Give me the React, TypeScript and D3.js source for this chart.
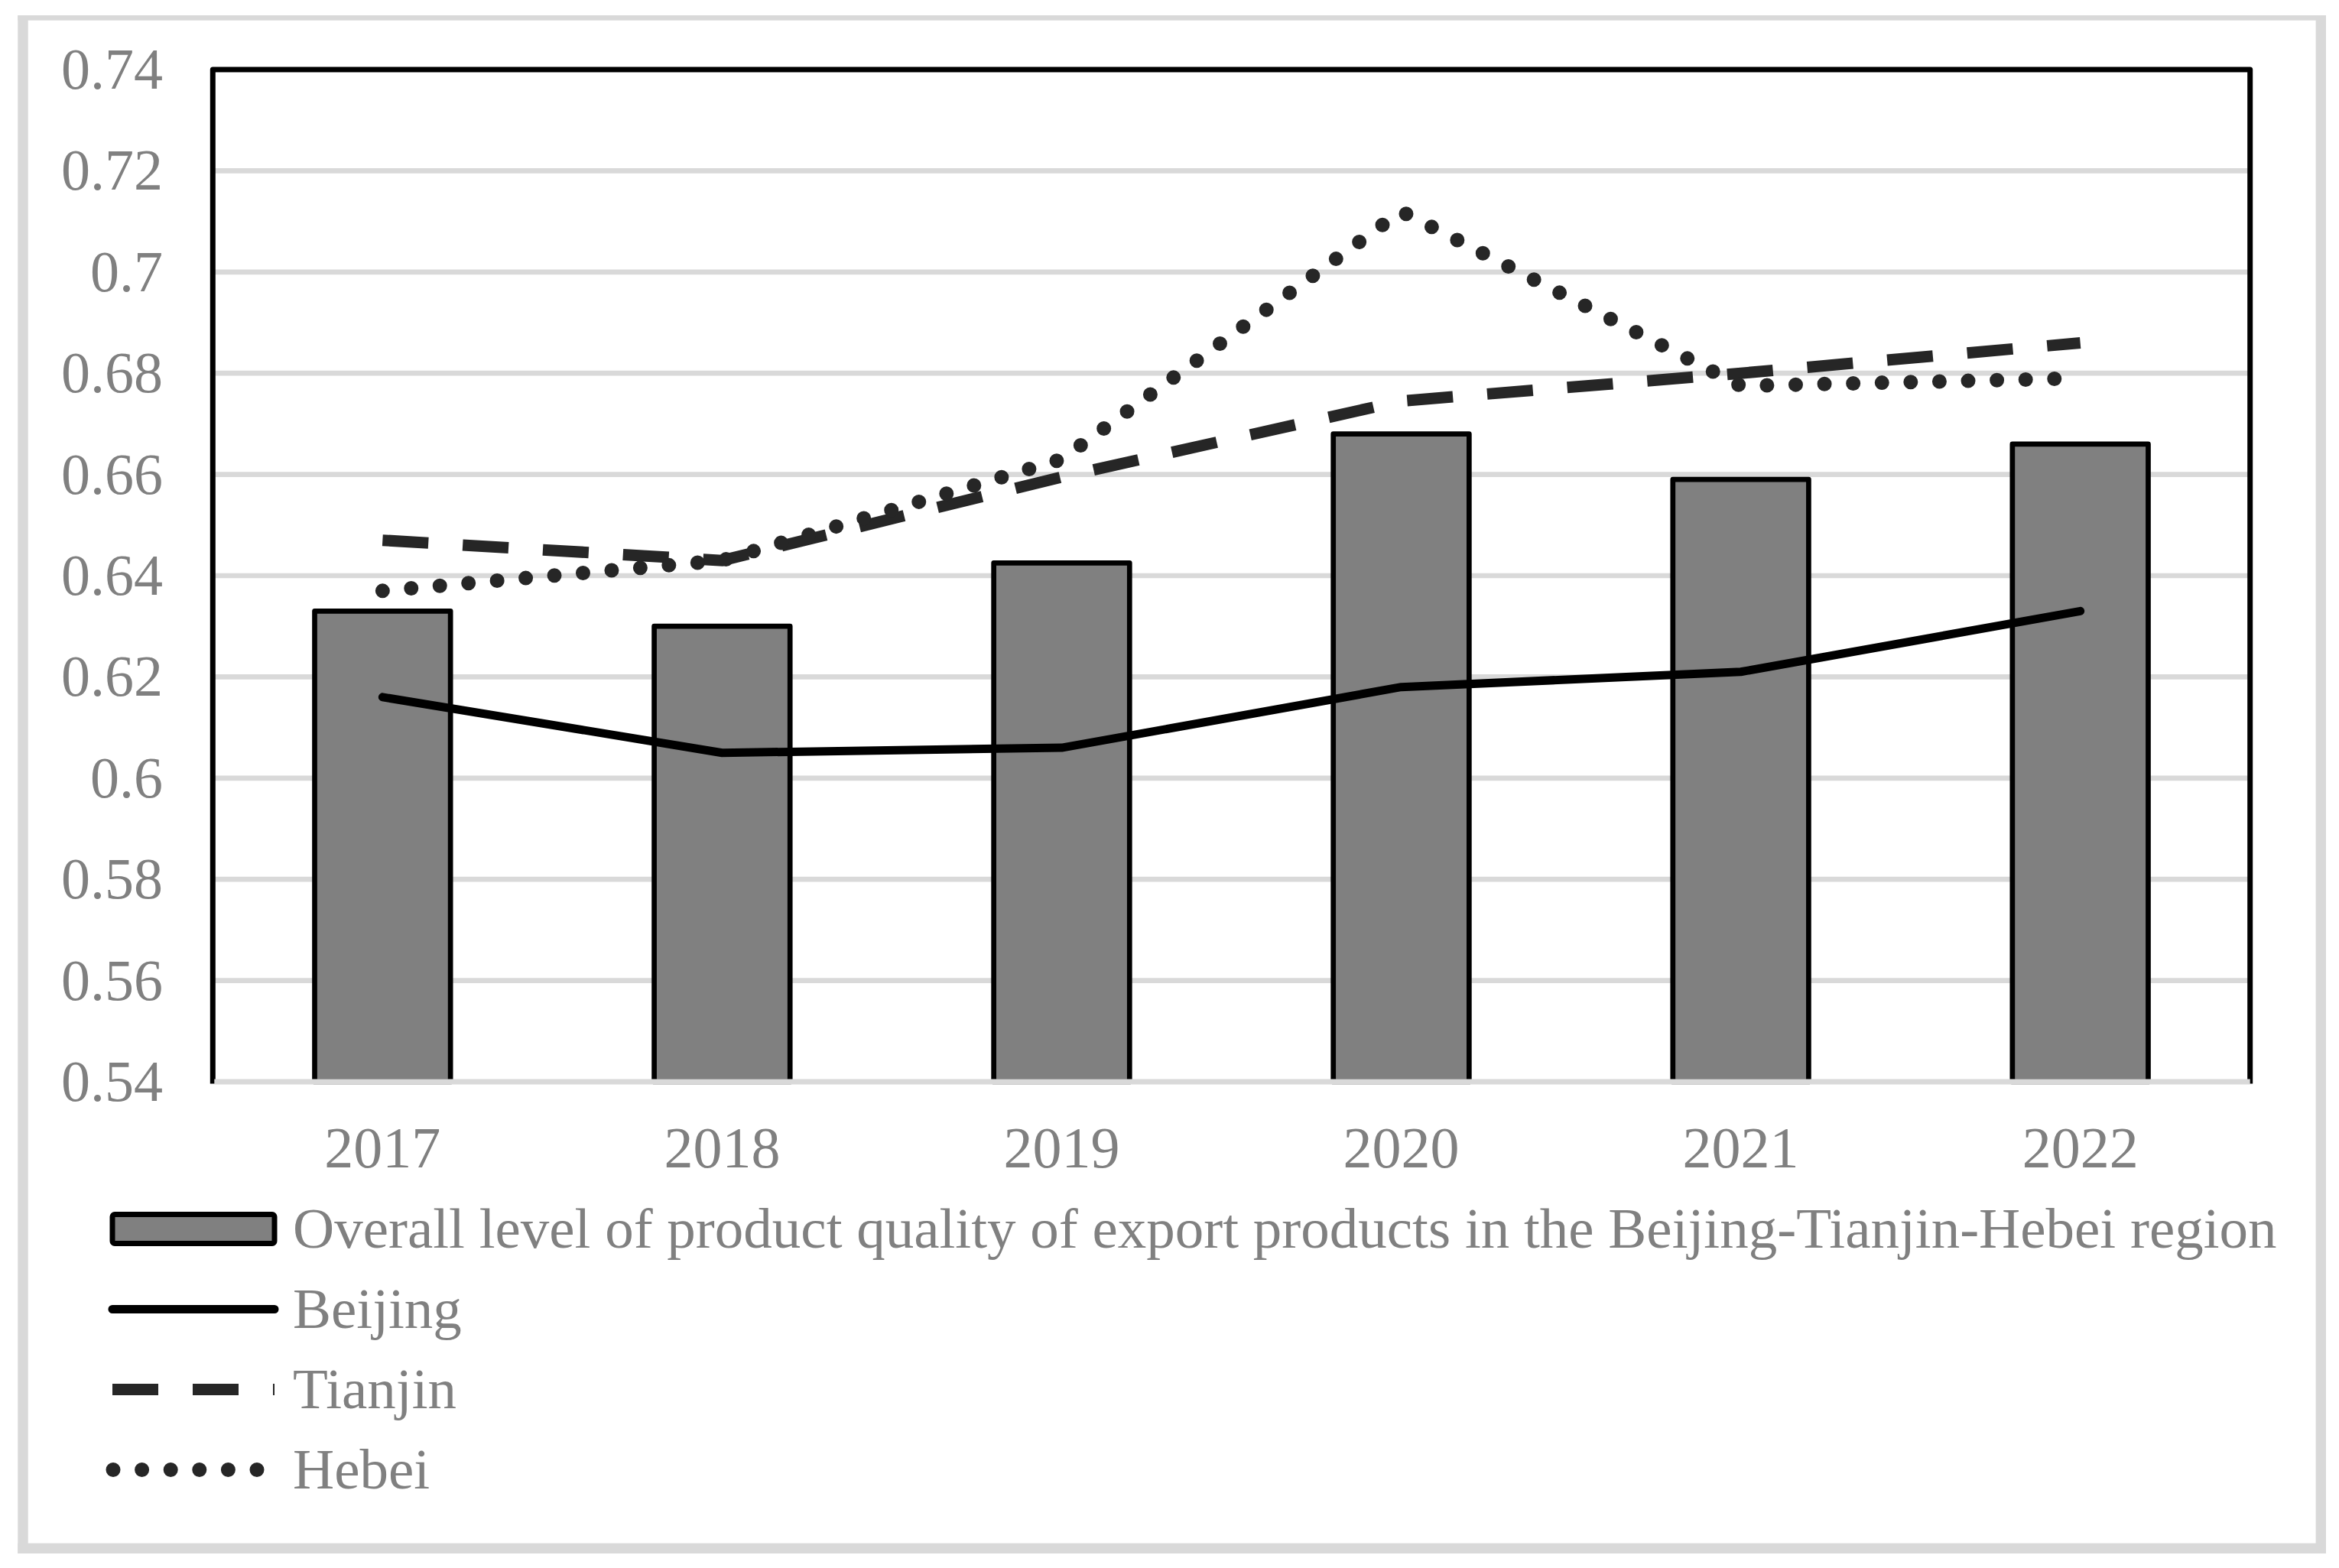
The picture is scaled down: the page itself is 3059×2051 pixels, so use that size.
import React from "react";
import * as d3 from "d3";

const years = ["2017", "2018", "2019", "2020", "2021", "2022"];
const overall = [0.633, 0.630, 0.6425, 0.668, 0.659, 0.666];
const beijing = [0.616, 0.605, 0.606, 0.618, 0.621, 0.633];
const tianjin = [0.647, 0.643, 0.6595, 0.6745, 0.680, 0.686];
const hebei = [0.637, 0.643, 0.663, 0.712, 0.6775, 0.679];

const yTicks = [0.54, 0.56, 0.58, 0.6, 0.62, 0.64, 0.66, 0.68, 0.7, 0.72, 0.74];
const yTickLabels = ["0.54", "0.56", "0.58", "0.6", "0.62", "0.64", "0.66", "0.68", "0.7", "0.72", "0.74"];

const legendLabels = [
  "Overall level of product quality of export products in the Beijing-Tianjin-Hebei region",
  "Beijing",
  "Tianjin",
  "Hebei",
];

const W = 3059;
const H = 2051;
const plot = { left: 278.3, right: 2942.7, top: 91, bottom: 1415 };

const FONT = "'Liberation Serif', 'Times New Roman', serif";
const TEXT = "#808080";
const GRID = "#d9d9d9";
const DARK = "#262626";

function App() {
  const x = d3.scaleBand<string>().domain(years).range([plot.left, plot.right]).padding(0);
  const y = d3.scaleLinear().domain([0.54, 0.74]).range([plot.bottom, plot.top]);
  const cx = (i: number) => (x(years[i]) as number) + x.bandwidth() / 2;
  const barW = x.bandwidth() * 0.4;

  const line = d3
    .line<number>()
    .x((_, i) => cx(i))
    .y((d) => y(d));

  const legendY = [1607.5, 1712.5, 1817.5, 1922.5];
  const symX0 = 147;
  const symX1 = 359;
  const textX = 383;

  return (
    <div style={{ position: "absolute", left: 0, top: 0 }}>
      <svg width={W} height={H} style={{ display: "block", background: "#fff" }}>
        {/* chart area border */}
        <rect x={23.3} y={20} width={3042 - 23.3} height={6.7} fill={GRID} />
        <rect x={23.3} y={20} width={13.4} height={2032 - 20} fill={GRID} />
        <rect x={3028.6} y={20} width={13.4} height={2032 - 20} fill={GRID} />
        <rect x={23.3} y={2018.6} width={3042 - 23.3} height={13.4} fill={GRID} />

        {/* gridlines */}
        {yTicks.slice(1, -1).map((t) => (
          <line key={t} x1={plot.left} x2={plot.right} y1={y(t)} y2={y(t)} stroke={GRID} strokeWidth={6.7} />
        ))}

        {/* bars */}
        {overall.map((v, i) => (
          <rect
            key={years[i]}
            x={cx(i) - barW / 2}
            y={y(v)}
            width={barW}
            height={y(0.54) - y(v)}
            fill="#808080"
            stroke="#000"
            strokeWidth={6.7}
            strokeLinejoin="round"
          />
        ))}

        {/* plot frame */}
        <path
          d={`M${plot.left},${plot.bottom + 2.5}V${plot.top}H${plot.right}V${plot.bottom + 2.5}`}
          fill="none"
          stroke="#000"
          strokeWidth={7}
          strokeLinejoin="round"
        />
        <line x1={plot.left + 2} x2={plot.right} y1={y(0.54)} y2={y(0.54)} stroke={GRID} strokeWidth={7} />

        {/* lines */}
        <path d={line(beijing) ?? ""} fill="none" stroke="#000" strokeWidth={11} strokeLinecap="round" strokeLinejoin="round" />
        <path d={line(tianjin) ?? ""} fill="none" stroke={DARK} strokeWidth={15} strokeDasharray="60 45" />
        <path
          d={line(hebei) ?? ""}
          fill="none"
          stroke={DARK}
          strokeWidth={19}
          strokeLinecap="round"
          strokeDasharray="0 37.6"
        />

        {/* y axis labels */}
        {yTicks.map((t, i) => (
          <text key={t} x={213} y={y(t) + 25} textAnchor="end" fontFamily={FONT} fontSize={76} fill={TEXT}>
            {yTickLabels[i]}
          </text>
        ))}

        {/* x axis labels */}
        {years.map((yr, i) => (
          <text key={yr} x={cx(i)} y={1526.5} textAnchor="middle" fontFamily={FONT} fontSize={76} fill={TEXT}>
            {yr}
          </text>
        ))}

        {/* legend */}
        <rect
          x={symX0}
          y={legendY[0] - 19}
          width={symX1 - symX0}
          height={38}
          rx={3}
          fill="#808080"
          stroke="#000"
          strokeWidth={7}
        />
        <line x1={symX0} x2={symX1} y1={legendY[1]} y2={legendY[1]} stroke="#000" strokeWidth={11} strokeLinecap="round" />
        <line x1={symX0} x2={symX1} y1={legendY[2]} y2={legendY[2]} stroke={DARK} strokeWidth={15} strokeDasharray="60 45" />
        <line
          x1={symX0 + 1}
          x2={symX1}
          y1={legendY[3]}
          y2={legendY[3]}
          stroke={DARK}
          strokeWidth={19}
          strokeLinecap="round"
          strokeDasharray="0 37.6"
        />
        {legendLabels.map((label, i) => (
          <text key={label} x={textX} y={legendY[i] + 24} fontFamily={FONT} fontSize={75} fill={TEXT}>
            {label}
          </text>
        ))}
      </svg>
    </div>
  );
}

export default App;
